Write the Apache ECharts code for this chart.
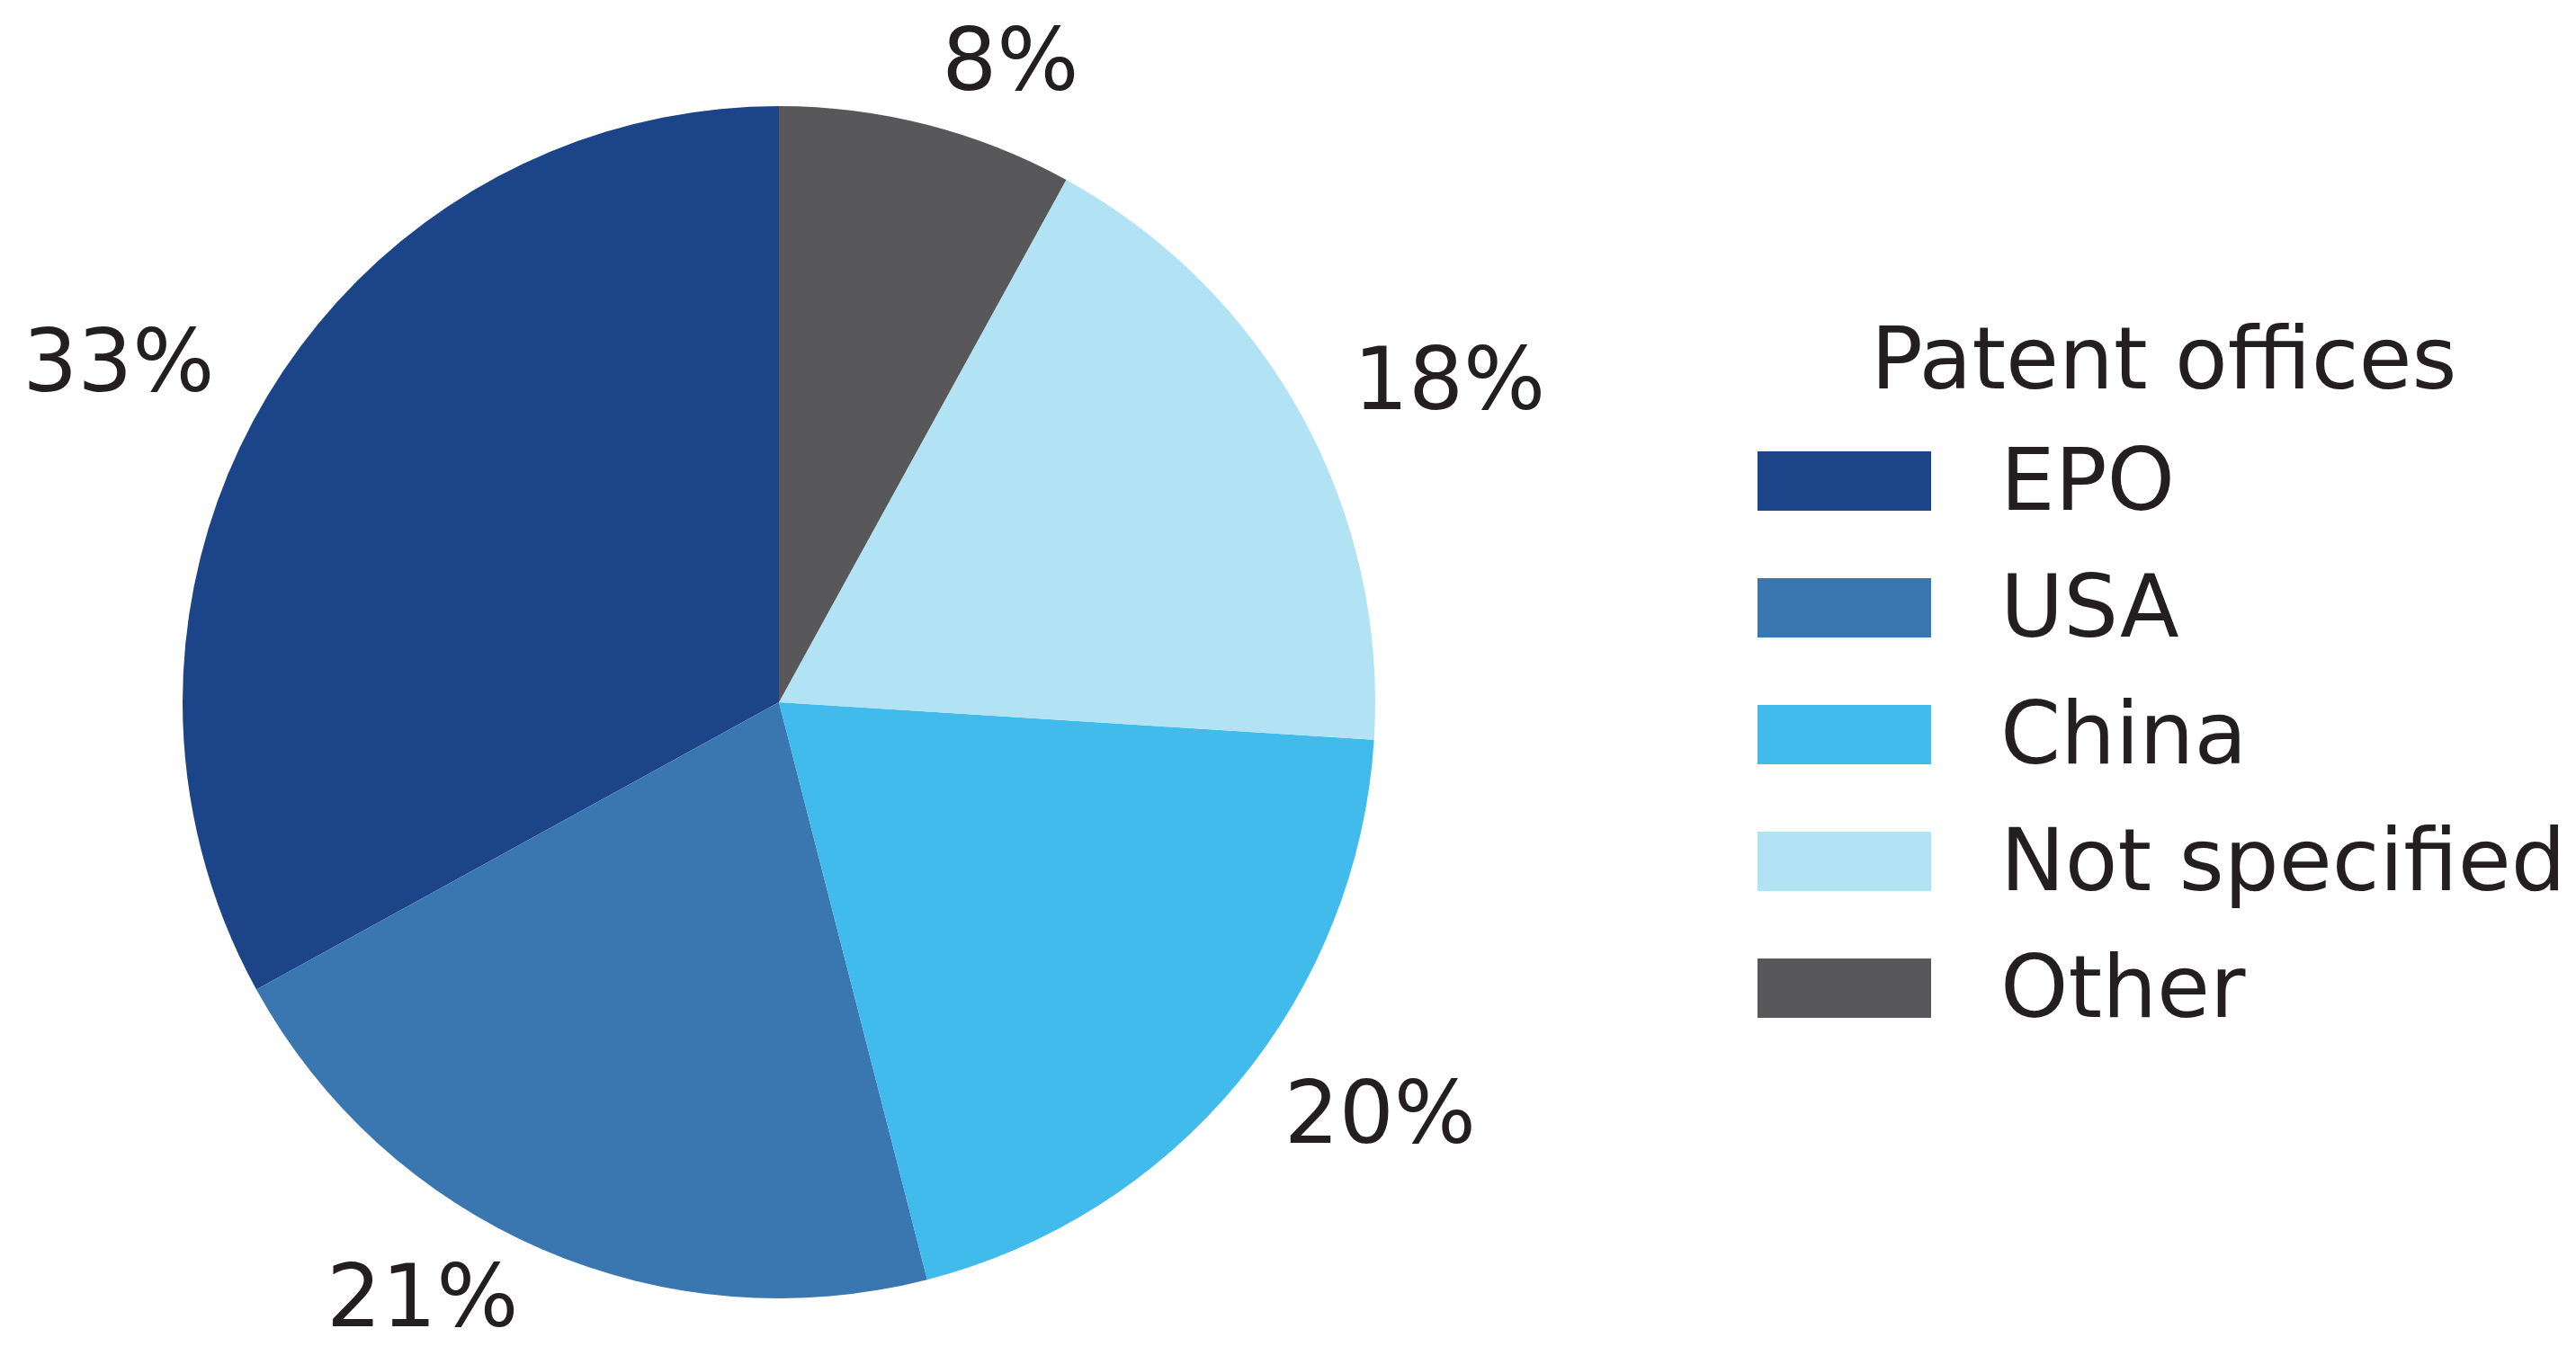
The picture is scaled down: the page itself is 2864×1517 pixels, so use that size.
<!DOCTYPE html>
<html>
<head>
<meta charset="utf-8">
<script src="https://cdn.jsdelivr.net/npm/echarts@6/dist/echarts.min.js"></script>
<style>
  html, body { margin: 0; padding: 0; background: #fff; }
  #chart { width: 2864px; height: 1517px; }
</style>
</head>
<body>
<div id="chart"></div>
<script>
const offices = ["EPO", "USA", "China", "Not specified", "Other"];
const shares = [33, 21, 20, 18, 8];
const colors = ["#1c4589", "#3a76b0", "#41baec", "#b2e3f5", "#58585a"];

const chart = echarts.init(document.getElementById("chart"));
const font = "DejaVu Sans";
const ink = "#231f20";

chart.setOption({
  animation: false,
  title: {
    text: "Patent offices",
    left: 2080,
    top: 359,
    padding: 0,
    textStyle: { fontFamily: font, fontSize: 96, fontWeight: "normal", color: ink }
  },
  legend: {
    orient: "vertical",
    left: 1954,
    top: 494,
    padding: 0,
    itemWidth: 193,
    itemHeight: 66,
    itemGap: 45,
    icon: "rect",
    selectedMode: false,
    formatter: (name) => "{t|" + name + "}",
    textStyle: {
      fontFamily: font,
      fontSize: 96,
      color: ink,
      rich: {
        // extra top padding pushes the caps down onto the swatch centre
        t: { fontFamily: font, fontSize: 96, color: ink, padding: [14, 0, 0, 72] }
      }
    },
    data: offices
  },
  series: [
    {
      type: "pie",
      center: [866, 781],
      radius: 663,
      startAngle: 90,
      clockwise: false,
      avoidLabelOverlap: false,
      itemStyle: { borderWidth: 0 },
      label: {
        show: true,
        position: "outside",
        formatter: "{c}%",
        fontFamily: font,
        fontSize: 96,
        color: ink,
        distanceToLabelLine: 0
      },
      labelLine: { show: false, length: 66, length2: 0 },
      emphasis: { disabled: true },
      data: offices.map((name, i) => ({
        name,
        value: shares[i],
        itemStyle: { color: colors[i] }
      }))
    }
  ]
});
</script>
</body>
</html>
